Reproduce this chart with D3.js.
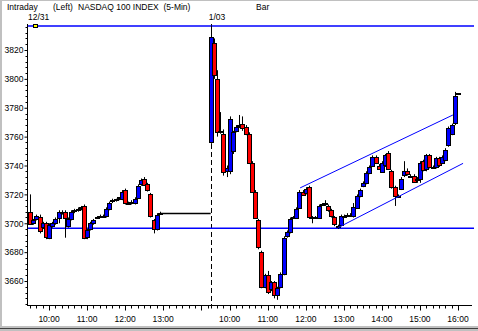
<!DOCTYPE html>
<html>
<head>
<meta charset="utf-8">
<script src="https://cdn.jsdelivr.net/npm/d3@7"></script>
<style>
body { margin: 0; background: #fff; }
svg text { font-family: "Liberation Sans", Arial, sans-serif; font-size: 8.5px; fill: #000; }
</style>
</head>
<body>
<svg id="chart" width="478" height="331"></svg>
<script>
// 5-min bars [open, high, low, close]; day 1 = 12/31, day 2 = 1/03
const day1Bars = [
  [3708,3720,3699,3700],[3700,3703,3699,3702],[3703,3706,3702,3705],[3704,3706,3693,3694],
  [3697,3701,3696,3700],[3700,3701,3689,3690],[3690,3700,3689,3699],[3698,3701,3697,3700],
  [3700,3704,3699,3703],[3704,3709,3700,3708],[3708,3709,3706,3708],[3708,3709,3690,3704],
  [3698,3704,3697,3703],[3703,3709,3702,3708],[3708,3710,3707,3709],[3709,3711,3708,3710],
  [3710,3712,3709,3711],[3712,3713,3689,3690],[3690,3696,3689,3695],[3696,3701,3695,3700],
  [3700,3703,3699,3702],[3704,3705,3703,3704],[3704,3706,3704,3705],[3705,3706,3704,3705],
  [3705,3711,3704,3710],[3710,3715,3709,3714],[3715,3717,3714,3716],[3716,3717,3715,3717],
  [3717,3718,3716,3718],[3717,3723,3716,3722],[3723,3724,3713,3714],[3714,3715,3713,3714],
  [3714,3716,3713,3715],[3714,3718,3713,3717],[3718,3727,3717,3726],[3727,3731,3726,3730],
  [3731,3732,3726,3727],[3727,3728,3722,3723],[3720,3721,3704,3705],[3702,3703,3693,3696],
  [3696,3707,3695,3706],[3707,3708,3706,3707]
];
const day1FlatLevel = 3707.3;   // no-trade stretch after the last day-1 bar
const day2Bars = [
  [3756,3837,3755,3829],[3825,3828,3800,3803],[3800,3806,3760,3763],[3764,3777,3762,3764],
  [3762,3765,3733,3736],[3736,3740,3732,3738],[3736,3774,3734,3772],[3750,3764,3748,3763],
  [3764,3768,3763,3767],[3768,3775,3766,3768],[3769,3774,3764,3766],[3767,3768,3761,3762],
  [3762,3763,3741,3742],[3742,3743,3721,3722],[3722,3723,3703,3704],[3702,3703,3682,3683],
  [3680,3681,3655,3656],[3656,3665,3655,3664],[3664,3667,3651,3652],[3654,3660,3653,3659],
  [3659,3660,3648,3650],[3650,3656,3647,3655],[3656,3666,3655,3665],[3665,3691,3664,3690],
  [3691,3695,3690,3694],[3694,3704,3693,3703],[3704,3705,3703,3704],[3704,3711,3703,3710],
  [3711,3723,3710,3722],[3722,3723,3719,3720],[3721,3725,3720,3724],[3725,3726,3703,3704],
  [3704,3705,3700,3704],[3704,3705,3703,3704],[3704,3713,3703,3712],[3713,3714,3712,3713],
  [3713,3716,3712,3714],[3712,3713,3708,3709],[3709,3710,3704,3705],[3704,3705,3698,3699],
  [3698,3699,3696,3697],[3699,3706,3698,3705],[3705,3706,3704,3705],[3706,3707,3705,3706],
  [3706,3707,3705,3706],[3705,3714,3704,3711],[3711,3720,3710,3719],[3719,3724,3718,3723],
  [3726,3729,3725,3728],[3728,3736,3727,3735],[3735,3740,3734,3739],[3740,3747,3739,3746],
  [3746,3747,3741,3742],[3740,3741,3737,3738],[3736,3743,3735,3742],[3740,3748,3739,3747],
  [3749,3750,3737,3738],[3736,3737,3724,3725],[3725,3726,3712,3719],[3719,3720,3718,3719],
  [3724,3732,3723,3731],[3733,3743,3732,3736],[3736,3738,3733,3734],[3733,3734,3732,3733],
  [3733,3734,3728,3729],[3731,3732,3728,3731],[3731,3743,3728,3742],[3743,3744,3736,3737],
  [3737,3748,3736,3747],[3747,3748,3738,3739],[3739,3740,3738,3739],[3739,3746,3738,3745],
  [3745,3746,3739,3740],[3742,3747,3741,3746],[3744,3752,3743,3751],[3754,3767,3753,3766],
  [3762,3769,3761,3768],[3769,3791,3768,3788],[3790,3790,3790,3790]
];
const day1Start = 0, day2Start = 57;     // bar slot of 9:30 each day
const day1Slots = 57, day2Slots = 79;
const hourLabels1 = ["10:00","11:00","12:00","13:00"];
const hourLabels2 = ["10:00","11:00","12:00","13:00","14:00","15:00","16:00"];
const dateLabels = [["12/31", 0], ["1/03", 57]];
const yTicks = [3660,3680,3700,3720,3740,3760,3780,3800,3820];
const levelLines = [3836.6, 3696.5];
const channelUpper = [[85.2, 3724.5], [133.4, 3775]];
const channelLower = [[97.2, 3697], [136.6, 3741.5]];

const svg = d3.select("#chart");
const W = 478, H = 331;
const plot = {left: 27, right: 474, top: 24, bottom: 305};

const x = d3.scaleLinear().domain([0, 135]).range([30, 458]);
const y = d3.scaleLinear().domain([3643.4, 3838]).range([plot.bottom, plot.top]);

// window frame
svg.append("rect").attr("width", W).attr("height", H).attr("fill", "#fff");
svg.append("rect").attr("x", 0).attr("y", 0).attr("width", 2).attr("height", H).attr("fill", "#c0c0c0");
svg.append("rect").attr("x", 0).attr("y", 0).attr("width", W).attr("height", 1).attr("fill", "#c0c0c0");
svg.append("rect").attr("x", 0).attr("y", 326).attr("width", W).attr("height", 5).attr("fill", "#c0c0c0");
svg.append("rect").attr("x", 0).attr("y", 328).attr("width", W).attr("height", 1).attr("fill", "#404040");

// header
const header = [["Intraday", 7], ["(Left)", 53], ["NASDAQ 100 INDEX  (5-Min)", 78], ["Bar", 256]];
svg.selectAll("text.hdr").data(header).enter().append("text")
  .attr("class", "hdr").attr("x", d => d[1]).attr("y", 10).attr("xml:space", "preserve").text(d => d[0]);
svg.selectAll("text.date").data(dateLabels).enter().append("text")
  .attr("class", "date").attr("x", d => x(d[1]) - 2).attr("y", 20).text(d => d[0]);

// day break
svg.append("line")
  .attr("x1", Math.round(x(day2Start)) + 0.5).attr("x2", Math.round(x(day2Start)) + 0.5)
  .attr("y1", plot.top).attr("y2", plot.bottom)
  .attr("stroke", "#000").attr("stroke-dasharray", "5,3");

// horizontal levels
svg.selectAll("line.level").data(levelLines).enter().append("line")
  .attr("x1", plot.left).attr("x2", plot.right)
  .attr("y1", d => y(d)).attr("y2", d => y(d))
  .attr("stroke", "#0000ff").attr("stroke-width", 1.5);

// flat no-trade line on day 1
svg.append("line")
  .attr("x1", x(day1Bars.length - 1)).attr("x2", x(day2Start) )
  .attr("y1", Math.round(y(day1FlatLevel)) + 0.5).attr("y2", Math.round(y(day1FlatLevel)) + 0.5)
  .attr("stroke", "#000").attr("stroke-width", 1.5);

// candles
const bars = day1Bars.map((b, i) => ({i: day1Start + i, o: b[0], h: b[1], l: b[2], c: b[3]}))
  .concat(day2Bars.map((b, i) => ({i: day2Start + i, o: b[0], h: b[1], l: b[2], c: b[3]})));

const g = svg.append("g");
const candle = g.selectAll("g.bar").data(bars).enter().append("g").attr("class", "bar");
candle.append("line")
  .attr("x1", d => Math.round(x(d.i)) + 0.5).attr("x2", d => Math.round(x(d.i)) + 0.5)
  .attr("y1", d => y(d.h)).attr("y2", d => y(d.l))
  .attr("stroke", "#000");
candle.append("rect")
  .attr("x", d => Math.round(x(d.i)) - 1.5)
  .attr("width", 4)
  .attr("y", d => Math.round(y(Math.max(d.o, d.c))) + 0.5)
  .attr("height", d => Math.max(1, Math.round(Math.abs(y(d.o) - y(d.c)))))
  .attr("fill", d => d.c > d.o ? "#0000ff" : d.c < d.o ? "#ff0000" : "#000")
  .attr("stroke", "#000");

// channel
const chLine = d3.line().x(d => x(d[0])).y(d => y(d[1]));
[channelUpper, channelLower].forEach(ch => {
  svg.append("path").attr("d", chLine(ch)).attr("fill", "none")
    .attr("stroke", "#0000ff").attr("stroke-width", 1);
});

// marker on top level
svg.append("rect").attr("x", 33.5).attr("y", 24.5).attr("width", 4).attr("height", 3)
  .attr("fill", "#ffff00").attr("stroke", "#000");

// y axis
const yAxis = d3.axisLeft(y).tickValues(yTicks).tickSize(3).tickPadding(1).tickFormat(d3.format("d"));
const ya = svg.append("g").attr("transform", `translate(${plot.left + 0.5},0)`).call(yAxis);
ya.select(".domain").attr("d", `M0,${plot.top}V${plot.bottom}`);
ya.selectAll("text").style("font-family", "Liberation Sans, Arial, sans-serif").style("font-size", "8.5px");
const yMinor = d3.range(3644, 3838, 4).filter(v => v % 20 !== 0);
ya.selectAll("line.minor").data(yMinor).enter().append("line")
  .attr("x1", -2).attr("x2", 0).attr("y1", d => Math.round(y(d)) + 0.5).attr("y2", d => Math.round(y(d)) + 0.5)
  .attr("stroke", "#000");

// x axis: a tick every 10 minutes, longer on the hour
const xa = svg.append("g").attr("transform", `translate(0,${plot.bottom + 0.5})`);
xa.append("line").attr("x1", plot.left).attr("x2", 472).attr("stroke", "#000");
const ticks = [];
for (let k = 0; k < day1Slots; k += 2) ticks.push({i: day1Start + k, hour: (k - 6) % 12 === 0 && k >= 6});
for (let k = 0; k < day2Slots; k += 2) ticks.push({i: day2Start + k, hour: (k - 6) % 12 === 0 && k >= 6});
xa.selectAll("line.tick").data(ticks).enter().append("line")
  .attr("x1", d => Math.round(x(d.i)) + 0.5).attr("x2", d => Math.round(x(d.i)) + 0.5)
  .attr("y1", 0).attr("y2", d => d.hour ? 5 : 3).attr("stroke", "#000");
const hourPos = hourLabels1.map((t, k) => ({t, i: day1Start + 6 + 12 * k}))
  .concat(hourLabels2.map((t, k) => ({t, i: day2Start + 6 + 12 * k})));
xa.selectAll("text").data(hourPos).enter().append("text")
  .attr("x", d => x(d.i)).attr("y", 16).attr("text-anchor", "middle").text(d => d.t);
</script>
</body>
</html>
